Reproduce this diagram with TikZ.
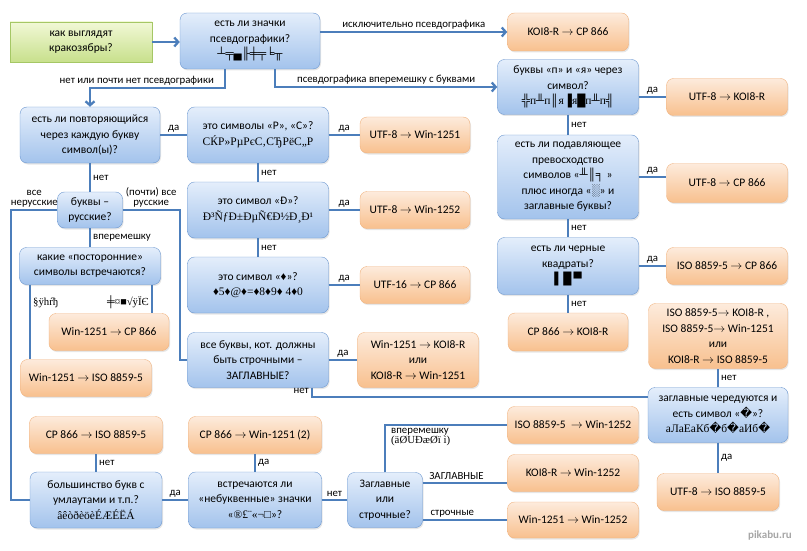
\documentclass[tikz,border=0pt]{standalone}
\usepackage{fontspec}
\setmainfont{Carlito}
\newfontfamily\garb{Liberation Serif}
\newfontfamily\replf{DejaVu Sans}
\usetikzlibrary{positioning,arrows.meta,shadows}
\definecolor{qtop}{HTML}{E4EEFB}
\definecolor{qbot}{HTML}{A3C3EC}
\definecolor{qline}{HTML}{6A96CF}
\definecolor{ctop}{HTML}{FDEBDC}
\definecolor{cbot}{HTML}{F8C08E}
\definecolor{cline}{HTML}{F0B27E}
\definecolor{stop}{HTML}{F1F8D6}
\definecolor{sbot}{HTML}{C8E08C}
\definecolor{sline}{HTML}{A5C765}
\definecolor{flow}{HTML}{4C7EBB}
\newcommand\conv{$\rightarrow$}
\newcommand\rchar{{\replf �}}
\begin{document}
\begin{tikzpicture}[x=1pt,y=-1pt]
  \tikzset{question node/.style={rectangle, draw=qline, top color=qtop, bottom color=qbot,
		rounded corners=7pt, align=center, inner sep=2pt,
		font=\fontsize{11.5}{15.5}\selectfont,
		drop shadow={shadow xshift=1pt, shadow yshift=-1.5pt, opacity=0.2}}, }
\tikzset{codepage node/.style={rectangle, draw=cline, top color=ctop, bottom color=cbot,
		rounded corners=7pt, align=center, inner sep=2pt,
		font=\fontsize{11.5}{15.5}\selectfont,
		drop shadow={shadow xshift=1pt, shadow yshift=-1.5pt, opacity=0.2}}, }
\tikzset{start node/.style={rectangle, draw=sline, top color=stop, bottom color=sbot,
		align=center, font=\fontsize{11.5}{15.5}\selectfont}, }
\tikzset{linea/.style={draw=flow, line width=2.3pt},}
\tikzset{tip/.style={-{Straight Barb[length=4pt,width=9pt]}},}
\tikzset{lab/.style={font=\fontsize{10.8}{9.8}\selectfont, inner sep=2pt, align=center},}
\useasboundingbox (0,0) rectangle (807,551);
%
    \node[start node, minimum width=142pt, minimum height=40pt] (1) at (81,42) {как выглядят\\кракозябры?};
    \node[question node, minimum width=140pt, minimum height=56pt] (2) at (250,41) {есть ли значки\\псевдографики?\\{\garb ┴╤▄╟╪╤╘╥}};
    \node[codepage node, minimum width=121pt, minimum height=38pt] (3) at (568,32) {KOI8-R \conv{} CP 866};
    \node[question node, minimum width=141pt, minimum height=55pt] (4) at (568,87) {буквы «п» и «я» через\\символ?\\{\garb ╬п╨п║я▐я█п╨п╣}};
    \node[codepage node, minimum width=121pt, minimum height=37pt] (5) at (727,97) {UTF-8 \conv{} KOI8-R};
%
    \node[question node, minimum width=140pt, minimum height=56pt] (6) at (90,135) {есть ли повторяющийся\\через каждую букву\\символ(ы)?};
    \node[question node, minimum width=141pt, minimum height=56pt] (7) at (258,135) {это символы «Р», «С»?\\{\garb СЌР»РµРєС‚СЂРёС„Р}};
    \node[codepage node, minimum width=110pt, minimum height=36pt] (8) at (415,135) {UTF-8 \conv{} Win-1251};
    \node[question node, minimum width=141pt, minimum height=56pt] (9) at (258,210) {это символ «Ð»?\\{\garb Ð³ÑƒÐ±ÐµÑ€Ð½Ð¸Ð¹}};
    \node[codepage node, minimum width=110pt, minimum height=37pt] (10) at (415,210) {UTF-8 \conv{} Win-1252};
    \node[question node, minimum width=141pt, minimum height=56pt] (11) at (258,285) {это символ «{\garb ♦}»?\\{\garb ♦5♦@♦=♦8♦9♦ 4♦0}};
    \node[codepage node, minimum width=110pt, minimum height=37pt] (12) at (415,285) {UTF-16 \conv{} CP 866};
    \node[question node, minimum width=141pt, minimum height=55pt] (13) at (258,360) {все буквы, кот. должны\\быть строчными –\\ЗАГЛАВНЫЕ?};
    \node[codepage node, minimum width=121pt, minimum height=55pt] (14) at (418,360) {Win-1251 \conv{} KOI8-R\\или\\KOI8-R \conv{} Win-1251};
%
    \node[question node, minimum width=65pt, minimum height=36pt] (15) at (90,210) {буквы –\\русские?};
    \node[question node, minimum width=141pt, minimum height=37pt] (16) at (90,266) {какие «посторонние»\\символы встречаются?};
    \node[codepage node, minimum width=120pt, minimum height=37pt] (17) at (109,332) {Win-1251 \conv{} CP 866};
    \node[codepage node, minimum width=131pt, minimum height=37pt] (18) at (86,378) {Win-1251 \conv{} ISO 8859-5};
%
    \node[question node, minimum width=141pt, minimum height=84pt] (19) at (568,177) {есть ли подавляющее\\превосходство\\символов «{\garb ╨║╕} »\\плюс иногда «{\garb ░}» и\\заглавные буквы?};
    \node[codepage node, minimum width=121pt, minimum height=39pt] (20) at (727,183) {UTF-8 \conv{} CP 866};
    \node[question node, minimum width=141pt, minimum height=57pt] (21) at (568,266) {есть ли черные\\квадраты?\\{\garb ▌\kern1pt█\kern2pt▀}};
    \node[codepage node, minimum width=121pt, minimum height=37pt] (22) at (727,266) {ISO 8859-5 \conv{} CP 866};
    \node[codepage node, minimum width=120pt, minimum height=38pt] (23) at (568,332) {CP 866 \conv{} KOI8-R};
    \node[codepage node, minimum width=139pt, minimum height=65pt] (24) at (718,336) {ISO 8859-5\conv{} KOI8-R ,\\ISO 8859-5\conv{} Win-1251\\или\\KOI8-R \conv{} ISO 8859-5};
    \node[question node, minimum width=140pt, minimum height=55pt] (25) at (718,415) {заглавные чередуются и\\есть символ «\rchar»?\\{\garb аЛаЕаКб\rchar б\rchar аИб\rchar}};
    \node[codepage node, minimum width=122pt, minimum height=37pt] (26) at (718,492) {UTF-8 \conv{} ISO 8859-5};
%
    \node[codepage node, minimum width=133pt, minimum height=37pt] (27) at (96,435) {CP 866 \conv{} ISO 8859-5};
    \node[codepage node, minimum width=133pt, minimum height=37pt] (28) at (255,435) {CP 866 \conv{} Win-1251 (2)};
    \node[question node, minimum width=132pt, minimum height=56pt] (29) at (96,500) {большинство букв с\\умлаутами и т.п.?\\{\garb âêòðèöèÉÆÉËÁ}};
    \node[question node, minimum width=133pt, minimum height=56pt] (30) at (255,500) {встречаются ли\\«небуквенные» значки\\«{\garb ®£¨«¬□}»?};
    \node[question node, minimum width=75pt, minimum height=55pt] (31) at (385,500) {Заглавные\\или\\строчные?};
    \node[codepage node, minimum width=131pt, minimum height=37pt] (32) at (573,425) {ISO 8859-5 \ \conv{} Win-1252};
    \node[codepage node, minimum width=131pt, minimum height=37pt] (33) at (573,473) {KOI8-R \conv{} Win-1252};
    \node[codepage node, minimum width=131pt, minimum height=36pt] (34) at (573,520) {Win-1251 \conv{} Win-1252};
    \node[text=black!35, font=\bfseries\fontsize{11}{12}\selectfont] (wm) at (770,536) {pikabu.ru};
%
\draw[linea,tip] (1.east) -- (1.east -| 2.west);
\draw[linea,tip] (2.east |- 3.west) -- (3.west) node[lab, midway, above] (l2-3) {исключительно псевдографика};
\draw[linea,tip] ([xshift=25pt]2.south) |- (4.west) node[lab, pos=0.75, above] (l2-4) {псевдографика вперемешку с буквами};
\draw[linea,tip] ([xshift=-25pt]2.south) -- ++(0,19) node[lab, anchor=south east, xshift=-8pt] (l2-6) {нет или почти нет псевдографики} -| (6.north);
\draw[linea] (4.east |- 5.west) -- (5.west) node[lab, midway, above] (l4-5) {да};
\draw[linea] (19.east) -- (19.east -| 20.west) node[lab, midway, above] (l19-20) {да};
\draw[linea] ([xshift=54pt]13.south) |- ([yshift=18pt]25.west) node[lab, pos=0.5, anchor=south east] (l13-25) {нет};
\draw[linea] (15.west) -- ++(-46,0) node[lab, midway, above] (l15-29) {все\\нерусские} |- (29.west);
\draw[linea] (15.east) -- ++(57,0) node[lab, midway, above] (l15-13) {(почти) все\\русские} |- (13.west);
\draw[linea] ([xshift=-60pt]16.south) -- ([xshift=-60pt]16.south |- 18.north) node[lab, pos=0.25, right] (l16-18) {\garb §ÿhŕђ};
\draw[linea] ([xshift=62pt]16.south) -- ([xshift=62pt]16.south |- 17.north) node[lab, pos=0.6, left] (l16-17) {\garb ╪¤■√ÿЇЄ};
\draw[linea] (31.north) |- (32.west) node[lab, pos=0.5, anchor=north west, xshift=3pt, align=left] (l31-32) {вперемешку\\{\garb (äØUÐæØï ì)}};
\draw[linea] ([yshift=17pt]31.east) -- ([yshift=17pt]31.east -| 33.west) node[lab, pos=0.4, above] (l31-33) {ЗАГЛАВНЫЕ};
\draw[linea] (31.east |- 34.west) -- (34.west) node[lab, pos=0.35, above] (l31-34) {строчные};
%
\foreach \x/\y/\t/\p in {6/7/да/above, 7/8/да/above, 9/10/да/above, 11/12/да/above,
  13/14/да/above, 21/22/да/above, 29/30/да/above, 30/31/нет/above,
  6/15/нет/right, 7/9/нет/right, 9/11/нет/right, 4/19/нет/right, 19/21/нет/right,
  21/23/нет/right, 29/27/нет/right, 25/24/нет/right, 30/28/да/right, 25/26/да/right,
  15/16/вперемешку/right}
  \path[linea] (\x) edge node[lab,\p] (l\x-\y) {\t} (\y);
%
\end{tikzpicture}
\end{document}
